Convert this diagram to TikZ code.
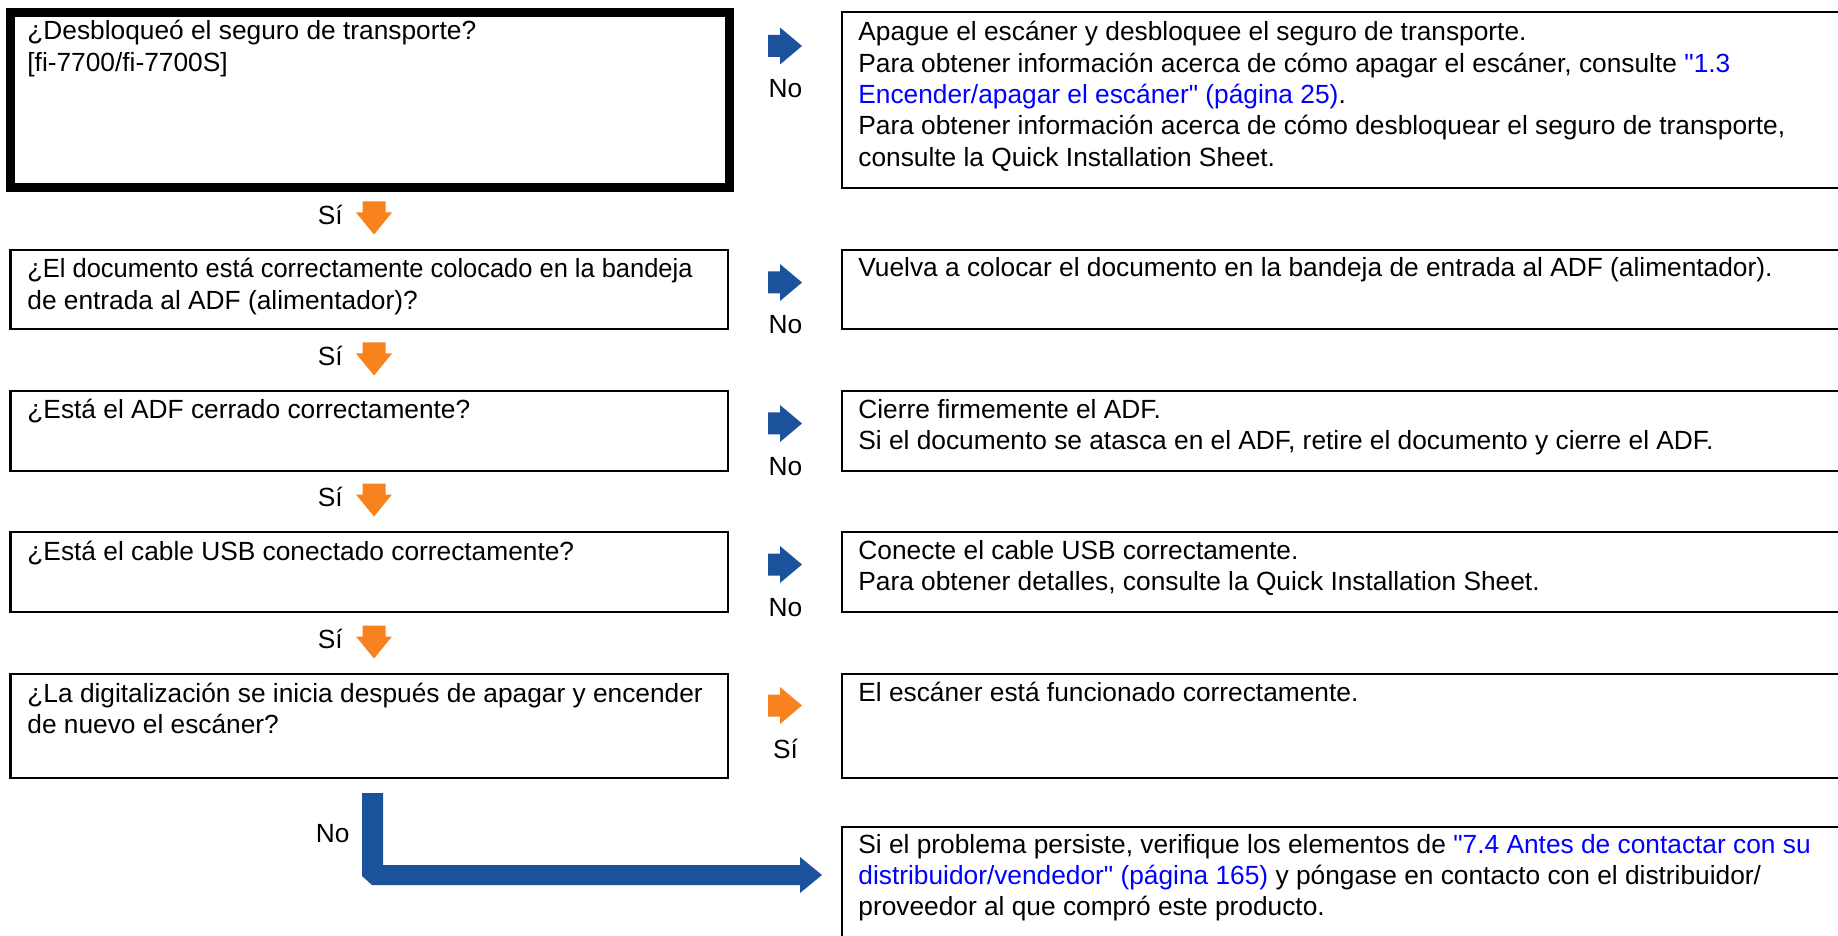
\documentclass[tikz,border=0pt]{standalone}
\usepackage{fontspec}
\setmainfont{Liberation Sans}
\newfontfamily\qfont{Liberation Sans}
\usetikzlibrary{fit}
\definecolor{arrblue}{HTML}{1C529B}
\definecolor{arrorange}{HTML}{F7821E}
\definecolor{linkblue}{HTML}{0000FF}
\newcommand{\lnk}[1]{\textcolor{linkblue}{#1}}
\newcommand{\qq}{{\qfont\symbol{34}}}
\tikzset{
  box/.style={draw=black, line width=1.35pt, inner sep=0pt, fill=none},
  thickbox/.style={draw=black, line width=4.5pt, inner sep=0pt},
  txt/.style={anchor=base west, inner sep=0pt, font=\fontsize{13.15pt}{15.65pt}\selectfont},
  lbl/.style={inner sep=0pt, font=\fontsize{13.15pt}{15.65pt}\selectfont},
  rarr/.pic={\path[pic actions] (-34,-11)--(-22,-11)--(-22,-18.5)--(0,0)--(-22,18.5)--(-22,11)--(-34,11)--cycle;},
  darr/.pic={\path[pic actions] (-11.5,-33)--(11.5,-33)--(11.5,-22)--(18,-22)--(0,0)--(-18,-22)--(-11.5,-22)--cycle;}
}
\begin{document}
\begin{tikzpicture}[x=0.5pt,y=-0.5pt]
\useasboundingbox (0,0) rectangle (1838,936);
\clip (0,0) rectangle (1838,936);
\fill[white] (0,0) rectangle (1838,936);
% left question boxes
\node[thickbox, fit={(10,12.5) (729,188)}] (q1) {};
\node[box, fit={(10.5,250) (728,329)}] (q2) {};
\node[box, fit={(10.5,391) (728,471)}] (q3) {};
\node[box, fit={(10.5,532) (728,612)}] (q4) {};
\node[box, fit={(10.5,674) (728,778)}] (q5) {};
% right answer boxes
\node[box, fit={(842,12) (1860,188)}] (r1) {};
\node[box, fit={(842,250) (1860,329)}] (r2) {};
\node[box, fit={(842,391) (1860,471)}] (r3) {};
\node[box, fit={(842,532) (1860,612)}] (r4) {};
\node[box, fit={(842,674) (1860,778)}] (r5) {};
\node[box, fit={(842,827) (1860,960)}] (r6) {};
% texts left
\node[txt] (tq1) at (27,40) {\parbox[t]{700pt}{¿Desbloqueó el seguro de transporte?\\ {[}fi-7700/fi-7700S{]}}};
\node[txt] (tq2) at (27,278) {\parbox[t]{700pt}{\scalebox{0.968}[1]{¿El documento está correctamente colocado en la bandeja}\\ de entrada al ADF (alimentador)?}};
\node[txt] (tq3) at (27,419) {\parbox[t]{700pt}{¿Está el ADF cerrado correctamente?}};
\node[txt] (tq4) at (27,560) {\parbox[t]{700pt}{¿Está el cable USB conectado correctamente?}};
\node[txt] (tq5) at (27,702) {\parbox[t]{700pt}{¿La digitalización se inicia después de apagar y encender\\ de nuevo el escáner?}};
% texts right
\node[txt] (tr1) at (858,41) {\parbox[t]{1000pt}{Apague el escáner y desbloquee el seguro de transporte.\\ Para obtener información acerca de cómo apagar el escáner, consulte \lnk{\qq1.3}\\ \lnk{Encender/apagar el escáner\qq\ (página 25)}.\\ Para obtener información acerca de cómo desbloquear el seguro de transporte,\\ consulte la Quick Installation Sheet.}};
\node[txt] (tr2) at (858,277) {\parbox[t]{1000pt}{Vuelva a colocar el documento en la bandeja de entrada al ADF (alimentador).}};
\node[txt] (tr3) at (858,418) {\parbox[t]{1000pt}{Cierre firmemente el ADF.\\ Si el documento se atasca en el ADF, retire el documento y cierre el ADF.}};
\node[txt] (tr4) at (858,559) {\parbox[t]{1000pt}{Conecte el cable USB correctamente.\\ Para obtener detalles, consulte la Quick Installation Sheet.}};
\node[txt] (tr5) at (858,701) {\parbox[t]{1000pt}{El escáner está funcionado correctamente.}};
\node[txt] (tr6) at (858,853) {\parbox[t]{1000pt}{Si el problema persiste, verifique los elementos de \lnk{\qq7.4 Antes de contactar con su}\\ \lnk{distribuidor/vendedor\qq\ (página 165)} y póngase en contacto con el distribuidor/\\ proveedor al que compró este producto.}};
% right arrows (No / Sí)
\pic[fill=arrblue] at (802,46) {rarr};
\pic[fill=arrblue] at (802,282.5) {rarr};
\pic[fill=arrblue] at (802,423.5) {rarr};
\pic[fill=arrblue] at (802,564.5) {rarr};
\pic[fill=arrorange] at (802,705.5) {rarr};
\node[lbl, anchor=base] (n1) at (785.5,98) {No};
\node[lbl, anchor=base] (n2) at (785.5,334) {No};
\node[lbl, anchor=base] (n3) at (785.5,475) {No};
\node[lbl, anchor=base] (n4) at (785.5,616) {No};
\node[lbl, anchor=base] (n5) at (785.5,758) {Sí};
% down arrows (Sí)
\pic[fill=arrorange] at (374,234.5) {darr};
\pic[fill=arrorange] at (374,375.5) {darr};
\pic[fill=arrorange] at (374,516.5) {darr};
\pic[fill=arrorange] at (374,658.5) {darr};
\node[lbl, anchor=base east] (s1) at (343,224.5) {Sí};
\node[lbl, anchor=base east] (s2) at (343,365.5) {Sí};
\node[lbl, anchor=base east] (s3) at (343,506.5) {Sí};
\node[lbl, anchor=base east] (s4) at (343,648.5) {Sí};
% big L arrow
\fill[arrblue] (362,793)--(383,793)--(383,865)--(800,865)--(800,857)--(822,875)--(800,893)--(800,885)--(372,885)--(362,876)--cycle;
\node[lbl, anchor=base east] (n6) at (350,842) {No};
\end{tikzpicture}
\end{document}
